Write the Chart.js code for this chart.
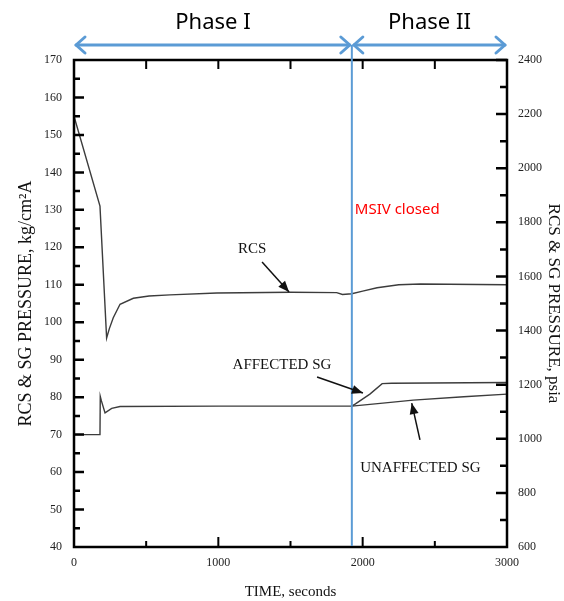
<!DOCTYPE html>
<html lang="en">
<head>
<meta charset="utf-8" />
<title>RCS &amp; SG pressure</title>
<style>
  * { margin: 0; padding: 0; }
  body { background: #fff; }
  .chartBox { width: 564px; height: 601px; }
</style>
</head>
<body>
<div class="chartBox"><canvas id="myChart" width="564" height="601"></canvas></div>
<script src="https://cdn.jsdelivr.net/npm/chart.js/dist/chart.umd.min.js"></script>
<script>
// setup - values (time in s, pressure in kg/cm2A)
const rcsTime     = [0, 180, 226, 245, 272, 319, 411, 520, 665, 990, 1500, 1820, 1860, 1925, 2000, 2100, 2250, 2400, 3000];
const rcsPressure = [155, 131, 95.8, 98.3, 101.2, 104.8, 106.4, 107.0, 107.3, 107.8, 108.0, 107.9, 107.4, 107.6, 108.3, 109.2, 110.0, 110.2, 110.0];

const sgTime      = [0, 180, 182, 190, 215, 261, 319, 1000, 1900, 1925];
const sgPressure  = [70, 70, 80.2, 79.0, 75.8, 77.0, 77.5, 77.6, 77.6, 77.6];

const affectedTime     = [1925, 1950, 2050, 2135, 2200, 3000];
const affectedPressure = [77.6, 78.2, 80.8, 83.6, 83.7, 83.9];

const unaffectedTime     = [1925, 2140, 2350, 2700, 3000];
const unaffectedPressure = [77.6, 78.4, 79.2, 80.1, 80.8];

const msivTime = 1925;
const phaseNames = ["Phase I", "Phase II"];
const phaseBounds = [0, msivTime, 3000];

const toPoints = (xs, ys) => xs.map((t, i) => ({ x: t, y: ys[i] }));

const serif = "'Liberation Serif', 'Times New Roman', serif";
const lineColor = "#3c3c3c";
const blue = "#5b9bd5";

function arrowHead(ctx, x0, y0, x1, y1, len, half) {
  const ang = Math.atan2(y1 - y0, x1 - x0);
  ctx.beginPath();
  ctx.moveTo(x1, y1);
  ctx.lineTo(x1 - len * Math.cos(ang) + half * Math.sin(ang), y1 - len * Math.sin(ang) - half * Math.cos(ang));
  ctx.lineTo(x1 - len * Math.cos(ang) - half * Math.sin(ang), y1 - len * Math.sin(ang) + half * Math.cos(ang));
  ctx.closePath();
  ctx.fill();
}

function openArrow(ctx, xTip, y, dir) {
  ctx.beginPath();
  ctx.moveTo(xTip - dir * 9, y - 8);
  ctx.lineTo(xTip, y);
  ctx.lineTo(xTip - dir * 9, y + 8);
  ctx.stroke();
}

// annotation: label position and arrow (data units)
const notes = [
  { text: "RCS", t: 1234, p: 119.5, from: [1303, 116.1], to: [1490, 108.1] },
  { text: "AFFECTED SG", t: 1441, p: 88.6, from: [1684, 85.4], to: [2002, 81.1] },
  { text: "UNAFFECTED SG", t: 2400, p: 61.1, from: [2397, 68.6], to: [2340, 78.4] }
];

const decorPlugin = {
  id: "decor",
  afterDatasetsDraw(chart) {
    const { ctx, chartArea: a, scales: { x, y, y2 } } = chart;
    ctx.save();

    // frame
    ctx.strokeStyle = "#000";
    ctx.lineWidth = 2.5;
    ctx.strokeRect(a.left, a.top, a.right - a.left, a.bottom - a.top);

    // inward ticks
    ctx.lineWidth = 2.5;
    ctx.beginPath();
    for (let v = 45; v < 170; v += 5) {
      const py = y.getPixelForValue(v);
      const len = v % 10 === 0 ? 10 : 6;
      ctx.moveTo(a.left, py); ctx.lineTo(a.left + len, py);
    }
    for (let v = 700; v <= 2400; v += 100) {
      const py = y2.getPixelForValue(v);
      const len = v % 200 === 0 ? 11 : 7;
      ctx.moveTo(a.right, py); ctx.lineTo(a.right - len, py);
    }
    ctx.stroke();
    ctx.lineWidth = 2;
    ctx.beginPath();
    for (let v = 500; v < 3000; v += 500) {
      const px = x.getPixelForValue(v);
      const len = v % 1000 === 0 ? 10 : 6;
      ctx.moveTo(px, a.bottom); ctx.lineTo(px, a.bottom - len);
      ctx.moveTo(px, a.top); ctx.lineTo(px, a.top + 9);
    }
    ctx.stroke();

    // MSIV closed line and phase arrows
    const mx = x.getPixelForValue(msivTime);
    const arrowY = a.top - 15;
    ctx.strokeStyle = blue;
    ctx.lineWidth = 2;
    ctx.beginPath();
    ctx.moveTo(mx, arrowY); ctx.lineTo(mx, a.bottom - 1);
    ctx.stroke();

    ctx.lineWidth = 3;
    ctx.lineCap = "round";
    ctx.lineJoin = "round";
    for (let i = 0; i < phaseNames.length; i++) {
      const x0 = x.getPixelForValue(phaseBounds[i]) + 2;
      const x1 = x.getPixelForValue(phaseBounds[i + 1]) - 2;
      ctx.beginPath();
      ctx.moveTo(x0, arrowY); ctx.lineTo(x1, arrowY);
      ctx.stroke();
      openArrow(ctx, x0, arrowY, -1);
      openArrow(ctx, x1, arrowY, 1);
      ctx.fillStyle = "#000";
      ctx.font = "22px 'Noto Sans', 'Open Sans', sans-serif";
      ctx.textAlign = "center";
      ctx.textBaseline = "middle";
      ctx.fillText(phaseNames[i], (x0 + x1) / 2, a.top - 37);
    }

    ctx.fillStyle = "#ff0000";
    ctx.font = "15px 'Noto Sans', 'Open Sans', sans-serif";
    ctx.textAlign = "left";
    ctx.fillText("MSIV closed", mx + 3, y.getPixelForValue(130));

    // curve labels with arrows
    ctx.fillStyle = "#111";
    ctx.strokeStyle = "#111";
    ctx.lineWidth = 1.5;
    ctx.lineCap = "butt";
    ctx.font = "15px " + serif;
    ctx.textAlign = "center";
    notes.forEach((n) => {
      ctx.fillText(n.text, x.getPixelForValue(n.t), y.getPixelForValue(n.p));
      const fx = x.getPixelForValue(n.from[0]), fy = y.getPixelForValue(n.from[1]);
      const tx = x.getPixelForValue(n.to[0]), ty = y.getPixelForValue(n.to[1]);
      ctx.beginPath();
      ctx.moveTo(fx, fy); ctx.lineTo(tx, ty);
      ctx.stroke();
      arrowHead(ctx, fx, fy, tx, ty, 11, 4.5);
    });

    ctx.restore();
  }
};

const lineDs = (label, pts) => ({
  label,
  data: pts,
  borderColor: lineColor,
  borderWidth: 1.4,
  pointRadius: 0,
  tension: 0,
  fill: false,
  yAxisID: "y"
});

// config
const config = {
  type: "line",
  data: {
    datasets: [
      lineDs("RCS", toPoints(rcsTime, rcsPressure)),
      lineDs("SG", toPoints(sgTime, sgPressure)),
      lineDs("AFFECTED SG", toPoints(affectedTime, affectedPressure)),
      lineDs("UNAFFECTED SG", toPoints(unaffectedTime, unaffectedPressure))
    ]
  },
  options: {
    responsive: false,
    animation: false,
    devicePixelRatio: 1,
    layout: { padding: { top: 60, left: 0, right: 0, bottom: 0 } },
    plugins: { legend: { display: false }, tooltip: { enabled: false } },
    scales: {
      x: {
        type: "linear",
        min: 0,
        max: 3000,
        grid: { display: false, drawTicks: false },
        border: { display: false },
        ticks: {
          stepSize: 1000,
          padding: 9,
          color: "#222",
          font: { family: serif, size: 12 },
          callback: (v) => String(v)
        },
        title: {
          display: true,
          text: "TIME, seconds",
          color: "#111",
          font: { family: serif, size: 15 },
          padding: { top: 0, bottom: 0 }
        },
        afterFit: (s) => { s.height = 54; }
      },
      y: {
        position: "left",
        min: 40,
        max: 170,
        grid: { display: false, drawTicks: false },
        border: { display: false },
        ticks: {
          stepSize: 10,
          padding: 12,
          color: "#222",
          font: { family: serif, size: 12 },
          callback: (v) => String(v)
        },
        title: {
          display: true,
          text: "RCS & SG PRESSURE, kg/cm²A",
          color: "#111",
          font: { family: serif, size: 18 },
          padding: { top: 15, bottom: 0 }
        },
        afterFit: (s) => { s.width = 74; }
      },
      y2: {
        position: "right",
        min: 600,
        max: 2400,
        grid: { display: false, drawTicks: false },
        border: { display: false },
        ticks: {
          stepSize: 200,
          padding: 11,
          color: "#222",
          font: { family: serif, size: 12 },
          callback: (v) => String(v)
        },
        title: {
          display: true,
          text: "RCS & SG PRESSURE, psia",
          color: "#111",
          font: { family: serif, size: 17 },
          padding: { top: 0, bottom: 0 }
        },
        afterFit: (s) => { s.width = 57; }
      }
    }
  },
  plugins: [decorPlugin]
};

// render init block
const myChart = new Chart(document.getElementById("myChart"), config);
</script>
</body>
</html>
